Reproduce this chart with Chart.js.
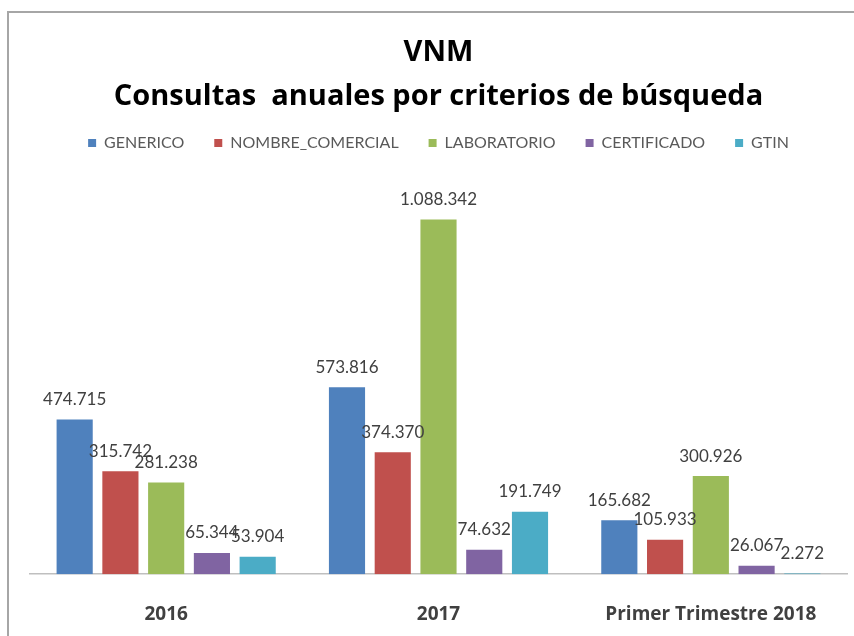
<!DOCTYPE html>
<html lang="es">
  <head>
    <meta charset="UTF-8" />
    <title>VNM - Consultas anuales</title>
    <script src="https://cdn.jsdelivr.net/npm/chart.js@4.4.1/dist/chart.umd.min.js"></script>
    <style>
      html, body { margin: 0; padding: 0; background: #fff; }
      .frame {
        position: absolute; left: 7px; top: 11px; width: 900px; height: 700px;
        border-left: 2px solid #a6a6a6; border-top: 2px solid #a6a6a6;
      }
      .chart-container { position: absolute; left: 0; top: 0; width: 854px; height: 636px; }
    </style>
  </head>
  <body>
    <div class="frame"></div>
    <div class="chart-container">
      <canvas id="chart" width="854" height="636"></canvas>
    </div>
    <script>
      const categorias = ["2016", "2017", "Primer Trimestre 2018"];
      const series = ["GENERICO", "NOMBRE_COMERCIAL", "LABORATORIO", "CERTIFICADO", "GTIN"];
      const generico = [474715, 573816, 165682];
      const nombreComercial = [315742, 374370, 105933];
      const laboratorio = [281238, 1088342, 300926];
      const certificado = [65344, 74632, 26067];
      const gtin = [53904, 191749, 2272];

      const colores = ["#4f81bd", "#c0504d", "#9bbb59", "#8064a2", "#4bacc6"];
      const valores = [generico, nombreComercial, laboratorio, certificado, gtin];

      const formatear = (v) => String(v).replace(/\B(?=(\d{3})+(?!\d))/g, ".");

      // etiquetas sobre cada barra
      const etiquetas = {
        id: "etiquetas",
        afterDatasetsDraw(chart) {
          const ctx = chart.ctx;
          ctx.save();
          ctx.font = "17px Lato";
          ctx.fillStyle = "#404040";
          ctx.textAlign = "center";
          ctx.textBaseline = "middle";
          chart.data.datasets.forEach((ds, i) => {
            chart.getDatasetMeta(i).data.forEach((bar, j) => {
              ctx.fillText(formatear(ds.data[j]), bar.x, bar.y - 20);
            });
          });
          ctx.restore();
        },
      };

      // un poco de aire debajo de la leyenda
      const espacioLeyenda = {
        id: "espacioLeyenda",
        beforeInit(chart) {
          const fitOriginal = chart.legend.fit;
          chart.legend.fit = function () {
            fitOriginal.bind(chart.legend)();
            this.height += 22;
          };
        },
      };

      const ctx = document.getElementById("chart").getContext("2d");
      new Chart(ctx, {
        type: "bar",
        data: {
          labels: categorias,
          datasets: series.map((s, i) => ({
            label: s,
            data: valores[i],
            backgroundColor: colores[i],
            borderWidth: 0,
          })),
        },
        options: {
          responsive: false,
          animation: false,
          categoryPercentage: 0.84,
          barPercentage: 0.79,
          layout: { padding: { left: 30, right: 7, top: 31, bottom: -19 } },
          plugins: {
            title: {
              display: true,
              text: ["VNM", "Consultas  anuales por criterios de búsqueda"],
              color: "#000",
              font: { family: "Open Sans", size: 29, weight: "bold", lineHeight: 1.5 },
              padding: { top: 0, bottom: -13 },
            },
            legend: {
              position: "top",
              labels: {
                color: "#595959",
                font: { family: "Lato", size: 16 },
                boxWidth: 8,
                boxHeight: 8,
                padding: 30,
              },
            },
            tooltip: { enabled: false },
          },
          scales: {
            x: {
              grid: { display: false, drawTicks: false },
              border: { color: "#bfbfbf", width: 1.5 },
              ticks: {
                color: "#404040",
                font: { family: "Open Sans", size: 19, weight: "bold" },
                padding: 29,
              },
            },
            y: {
              display: false,
              beginAtZero: true,
              max: 1200000,
            },
          },
        },
        plugins: [etiquetas, espacioLeyenda],
      });
    </script>
  </body>
</html>
